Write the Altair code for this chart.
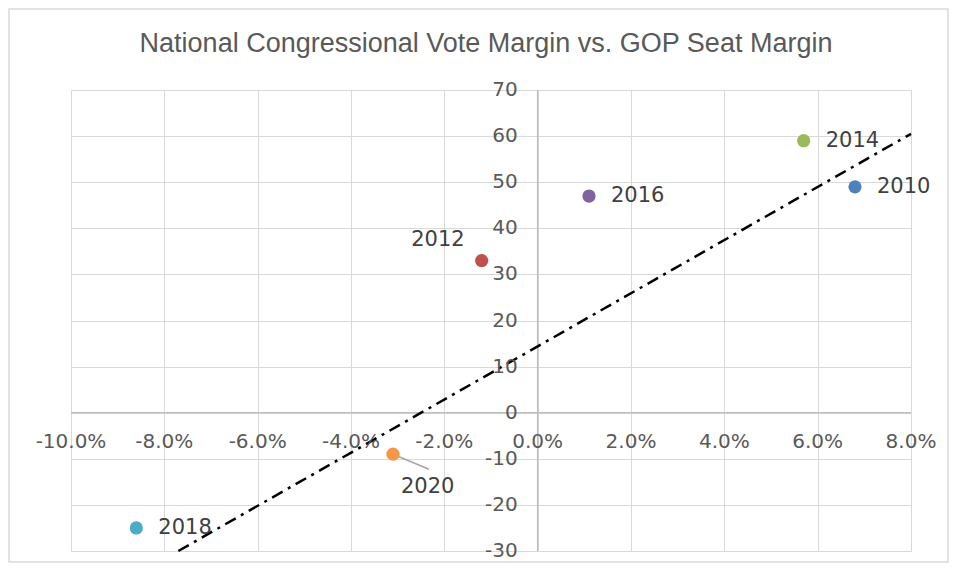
import altair as alt
import pandas as pd

# Data
years = ["2010", "2012", "2014", "2016", "2018", "2020"]
vote_margin = [6.8, -1.2, 5.7, 1.1, -8.6, -3.1]       # national congressional vote margin (%)
seat_margin = [49, 33, 59, 47, -25, -9]               # GOP seat margin
colors = ["#4F81BD", "#C0504D", "#9BBB59", "#8064A2", "#4BACC6", "#F79646"]

trend_x = [-7.7, 8.0]
trend_y = [-30.0, 60.5]

x_ticks = [-10, -8, -6, -4, -2, 0, 2, 4, 6, 8]
x_tick_labels = ["-10.0%", "-8.0%", "-6.0%", "-4.0%", "-2.0%", "0.0%", "2.0%", "4.0%", "6.0%", "8.0%"]
y_ticks = [-30, -20, -10, 0, 10, 20, 30, 40, 50, 60, 70]

title_text = "National Congressional Vote Margin vs. GOP Seat Margin"

pts = pd.DataFrame({"year": years, "x": vote_margin, "y": seat_margin, "color": colors})
trend = pd.DataFrame({"x": trend_x, "y": trend_y})
xt = pd.DataFrame({"x": x_ticks, "label": x_tick_labels, "y": [0] * len(x_ticks)})
yt = pd.DataFrame({"y": y_ticks, "label": [str(v) for v in y_ticks], "x": [0] * len(y_ticks)})

xs = alt.Scale(domain=[-10, 8], nice=False, zero=False)
ys = alt.Scale(domain=[-30, 70], nice=False, zero=False)

GRID = "#d9d9d9"
AXIS = "#bfbfbf"
TICK_COLOR = "#595959"
LABEL_COLOR = "#404040"
FONT = "DejaVu Sans"
W, H = 840, 461

base_x = alt.X("x:Q", scale=xs, axis=alt.Axis(values=x_ticks, grid=True, gridColor=GRID, labels=False,
                                              ticks=False, domain=False, title=None))
base_y = alt.Y("y:Q", scale=ys, axis=alt.Axis(values=y_ticks, grid=True, gridColor=GRID, labels=False,
                                              ticks=False, domain=False, title=None))

grid = alt.Chart(trend).mark_point(opacity=0).encode(x=base_x, y=base_y)

zero_x = alt.Chart(pd.DataFrame({"y": [0]})).mark_rule(color=AXIS, strokeWidth=1.5).encode(
    y=alt.Y("y:Q", scale=ys))
zero_y = alt.Chart(pd.DataFrame({"x": [0]})).mark_rule(color=AXIS, strokeWidth=1.5).encode(
    x=alt.X("x:Q", scale=xs))

x_labels = alt.Chart(xt).mark_text(font=FONT, fontSize=20, color=TICK_COLOR, baseline="middle",
                                   align="center", dy=29).encode(
    x=alt.X("x:Q", scale=xs), y=alt.Y("y:Q", scale=ys), text="label:N")
y_labels = alt.Chart(yt).mark_text(font=FONT, fontSize=20, color=TICK_COLOR, baseline="middle",
                                   align="right", dx=-20).encode(
    x=alt.X("x:Q", scale=xs), y=alt.Y("y:Q", scale=ys), text="label:N")

trend_line = alt.Chart(trend).mark_line(color="#000000", strokeWidth=2.5, strokeDash=[12, 6, 3, 6]).encode(
    x=alt.X("x:Q", scale=xs), y=alt.Y("y:Q", scale=ys))

leader = alt.Chart(pts).transform_filter(alt.datum.year == "2020").mark_rule(
    color="#a6a6a6", strokeWidth=1.5, x2Offset=36, y2Offset=15).encode(
    x=alt.X("x:Q", scale=xs), y=alt.Y("y:Q", scale=ys), x2="x:Q", y2="y:Q")

points = alt.Chart(pts).mark_circle(size=175, opacity=1).encode(
    x=alt.X("x:Q", scale=xs), y=alt.Y("y:Q", scale=ys),
    color=alt.Color("color:N", scale=None))

right_labels = alt.Chart(pts).transform_filter(
    alt.FieldOneOfPredicate(field="year", oneOf=["2010", "2014", "2016", "2018"])
).mark_text(font=FONT, fontSize=21, color=LABEL_COLOR, align="left", baseline="middle", dx=22).encode(
    x=alt.X("x:Q", scale=xs), y=alt.Y("y:Q", scale=ys), text="year:N")

label_2012 = alt.Chart(pts).transform_filter(alt.datum.year == "2012").mark_text(
    font=FONT, fontSize=21, color=LABEL_COLOR, align="right", baseline="middle", dx=-17, dy=-21).encode(
    x=alt.X("x:Q", scale=xs), y=alt.Y("y:Q", scale=ys), text="year:N")

label_2020 = alt.Chart(pts).transform_filter(alt.datum.year == "2020").mark_text(
    font=FONT, fontSize=21, color=LABEL_COLOR, align="left", baseline="middle", dx=8, dy=33).encode(
    x=alt.X("x:Q", scale=xs), y=alt.Y("y:Q", scale=ys), text="year:N")

title = alt.Chart(pd.DataFrame({"t": [title_text]})).mark_text(
    font="Liberation Sans", fontSize=27, color=TICK_COLOR, align="center", baseline="middle").encode(
    x=alt.value(W / 2 - 5), y=alt.value(-46), text="t:N")

border = alt.Chart(pd.DataFrame({"a": [0]})).mark_rect(fill=None, stroke="#d9d9d9", strokeWidth=1.5).encode(
    x=alt.value(-62), x2=alt.value(W + 37), y=alt.value(-81), y2=alt.value(H + 11))

chart = alt.layer(
    grid, zero_x, zero_y, trend_line, leader, points, x_labels, y_labels,
    right_labels, label_2012, label_2020, title, border
).properties(
    width=W, height=H,
    autosize=alt.AutoSizeParams(type="none"),
    padding={"left": 63, "top": 82, "right": 38, "bottom": 12},
).configure_view(stroke=None).configure(background="white")

chart.save("out.html", embed_options={"renderer": "svg", "actions": False})
